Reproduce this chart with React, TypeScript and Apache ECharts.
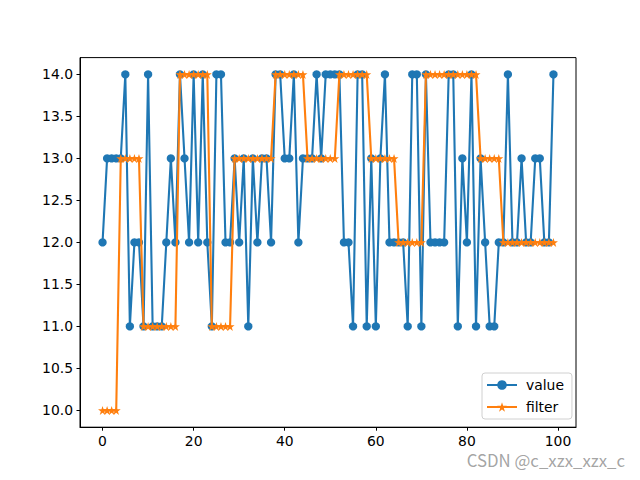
import React, { useEffect, useRef } from "react";
import * as echarts from "echarts";

const xs: number[] = Array.from({ length: 100 }, (_, i) => i);

const valueSeries: number[] = [
  12, 13, 13, 13, 13, 14, 11, 12, 12, 11,
  14, 11, 11, 11, 12, 13, 12, 14, 13, 12,
  14, 12, 14, 12, 11, 14, 14, 12, 12, 13,
  12, 13, 11, 13, 12, 13, 13, 12, 14, 14,
  13, 13, 14, 12, 13, 13, 13, 14, 13, 14,
  14, 14, 14, 12, 12, 11, 14, 14, 11, 13,
  11, 13, 14, 12, 12, 12, 12, 11, 14, 14,
  11, 14, 12, 12, 12, 12, 14, 14, 11, 13,
  12, 14, 11, 13, 12, 11, 11, 12, 12, 14,
  12, 12, 13, 12, 12, 13, 13, 12, 12, 14,
];

const filterSeries: number[] = [
  10, 10, 10, 10, 13, 13, 13, 13, 13, 11,
  11, 11, 11, 11, 11, 11, 11, 14, 14, 14,
  14, 14, 14, 14, 11, 11, 11, 11, 11, 13,
  13, 13, 13, 13, 13, 13, 13, 13, 14, 14,
  14, 14, 14, 14, 14, 13, 13, 13, 13, 13,
  13, 13, 14, 14, 14, 14, 14, 14, 14, 13,
  13, 13, 13, 13, 13, 12, 12, 12, 12, 12,
  12, 14, 14, 14, 14, 14, 14, 14, 14, 14,
  14, 14, 14, 13, 13, 13, 13, 13, 12, 12,
  12, 12, 12, 12, 12, 12, 12, 12, 12, 12,
];

const xTicks: number[] = [0, 20, 40, 60, 80, 100];
const yTicks: number[] = [10, 10.5, 11, 11.5, 12, 12.5, 13, 13.5, 14];
const seriesNames: string[] = ["value", "filter"];

const STAR =
  "path://M0,-10 L2.245,-3.09 L9.511,-3.09 L3.633,1.18 L5.878,8.09 L0,3.82 L-5.878,8.09 L-3.633,1.18 L-9.511,-3.09 L-2.245,-3.09 Z";

const FONT = "DejaVu Sans";

export default function App() {
  const ref = useRef<HTMLDivElement>(null);
  useEffect(() => {
    if (!ref.current) return;
    const chart = echarts.init(ref.current, null, { renderer: "svg" });
    const axisText = { color: "#000", fontFamily: FONT, fontSize: 13.9 };
    chart.setOption({
      animation: false,
      backgroundColor: "#ffffff",
      grid: {
        left: 80,
        right: 64,
        top: 57.6,
        bottom: 52.8,
        show: true,
        borderColor: "#000",
        borderWidth: 1,
        backgroundColor: "transparent",
      },
      xAxis: {
        type: "value",
        min: -4.95,
        max: 103.95,
        axisLine: { show: true, onZero: false, lineStyle: { color: "#000", width: 1 } },
        axisTick: {
          show: true,
          customValues: xTicks,
          length: 3.5,
          inside: false,
          lineStyle: { color: "#000", width: 1 },
        },
        axisLabel: {
          show: true,
          customValues: xTicks,
          margin: 7,
          ...axisText,
          formatter: (v: number) => String(v),
        },
        splitLine: { show: false },
      },
      yAxis: {
        type: "value",
        min: 9.8,
        max: 14.2,
        axisLine: { show: true, onZero: false, lineStyle: { color: "#000", width: 1 } },
        axisTick: {
          show: true,
          customValues: yTicks,
          length: 3.5,
          inside: false,
          lineStyle: { color: "#000", width: 1 },
        },
        axisLabel: {
          show: true,
          customValues: yTicks,
          margin: 7,
          ...axisText,
          formatter: (v: number) => v.toFixed(1),
        },
        splitLine: { show: false },
      },
      legend: {
        orient: "vertical",
        left: 482,
        top: 373,
        padding: [5, 8, 5, 4],
        itemWidth: 30,
        itemHeight: 12,
        itemGap: 8,
        backgroundColor: "#ffffff",
        borderColor: "#d0d0d0",
        borderWidth: 1,
        borderRadius: 3,
        textStyle: { color: "#000", fontFamily: FONT, fontSize: 13.9, padding: [0, 0, 0, 4] },
        data: seriesNames,
      },
      series: [
        {
          name: seriesNames[0],
          type: "line",
          data: xs.map((x, i) => [x, valueSeries[i]]),
          color: "#1f77b4",
          lineStyle: { width: 2.1, color: "#1f77b4" },
          symbol: "circle",
          symbolSize: 8.3,
          showAllSymbol: true,
          itemStyle: { color: "#1f77b4" },
          z: 2,
        },
        {
          name: seriesNames[1],
          type: "line",
          data: xs.map((x, i) => [x, filterSeries[i]]),
          color: "#ff7f0e",
          lineStyle: { width: 2.1, color: "#ff7f0e" },
          symbol: STAR,
          symbolSize: 9,
          showAllSymbol: true,
          itemStyle: { color: "#ff7f0e" },
          z: 3,
        },
      ],
      graphic: [
        {
          type: "text",
          right: 15,
          top: 452,
          style: {
            text: "CSDN @c_xzx_xzx_c",
            fill: "rgba(140,140,140,0.8)",
            fontFamily: "Noto Sans CJK SC",
            fontSize: 16.8,
          },
        },
      ],
    });
    return () => chart.dispose();
  }, []);
  return (
    <div
      ref={ref}
      style={{ position: "absolute", left: 0, top: 0, width: 640, height: 480 }}
    />
  );
}
